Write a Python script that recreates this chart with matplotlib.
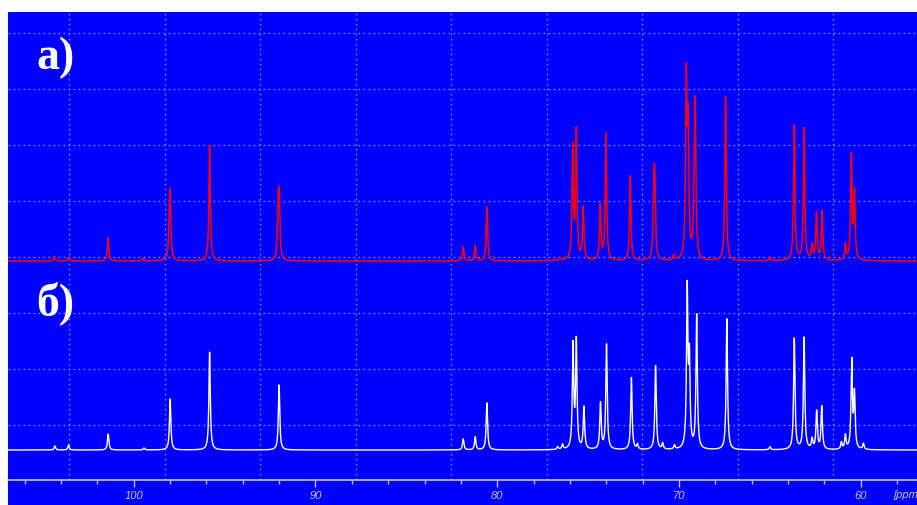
import numpy as np
import matplotlib
matplotlib.use("Agg")
import matplotlib.pyplot as plt
from matplotlib.patches import Rectangle

# ---- data (peak positions in ppm, line intensities in arbitrary units) ----
peaks_a_ppm = [104.37, 103.58, 101.40, 99.47, 98.04, 97.99, 95.82, 92.05, 91.99,
               81.87, 81.21, 80.57, 76.57, 75.85, 75.65, 75.27, 74.33, 74.02,
               72.68, 71.38, 71.33, 70.30, 69.60, 69.50, 69.18, 69.11, 67.44,
               64.99, 63.66, 63.12, 62.68, 62.44, 62.13, 60.85, 60.52, 60.35]
peaks_a_int = [5, 4, 23, 3, 30, 58, 116, 50, 55,
               14, 15, 54, 3, 112, 128, 52, 55, 126,
               85, 65, 62, 5, 175, 125, 40, 150, 164,
               4, 135, 132, 14, 47, 49, 16, 104, 66]

peaks_b_ppm = [104.33, 103.58, 101.40, 99.43, 97.99, 95.82, 92.00,
               81.87, 81.21, 80.57, 76.68, 76.41, 75.83, 75.65, 75.23, 74.32,
               73.99, 72.62, 72.29, 71.29, 70.90, 70.25, 69.55, 69.43, 69.03,
               67.37, 65.00, 63.66, 63.12, 62.68, 62.43, 62.15, 61.07, 60.85,
               60.50, 60.35, 59.86]
peaks_b_int = [4, 5, 16, 2, 51, 98, 65,
               11, 13, 47, 3, 5, 103, 107, 42, 46,
               105, 72, 5, 84, 6, 4, 158, 85, 134,
               131, 3, 111, 112, 10, 38, 43, 7, 14,
               88, 54, 6]

offset_a = 218.5
offset_b = 29.5

tick_major = [100, 90, 80, 70, 60]
tick_labels = ["100", "90", "80", "70", "60"]
tick_minor = list(range(58, 107, 2))
x_range = (106.91, 56.91)

BLUE = "#0000ff"
AXC = "#c4c4f4"
GRIDC = "#8080ff"

W, H = 917, 505
plt.rcParams["lines.scale_dashes"] = False
fig = plt.figure(figsize=(W / 100, H / 100), dpi=100, facecolor="white")
bg = Rectangle((8 / W, 0), (W - 8) / W, (H - 12) / H,
               transform=fig.transFigure, facecolor=BLUE,
               edgecolor="none", zorder=-10)
fig.patches.append(bg)

ax_bottom_px = 479.5
ax = fig.add_axes([8 / W, (H - ax_bottom_px) / H, (W - 8) / W, (ax_bottom_px - 12) / H])
ax.set_zorder(1)
ax.set_facecolor(BLUE)

# grid (decorative, fixed pixel spacing like the original instrument plot)
for k in range(9):
    xp = 69 + 95.5 * k
    xf = (xp - 8) / (W - 8)
    ax.plot([xf, xf], [0, 1], transform=ax.transAxes, color=GRIDC,
            lw=1.0, dashes=(1.2, 2.4), zorder=1)
for k in range(8):
    yp = 33 + 56 * k
    yf = (ax_bottom_px - yp) / (ax_bottom_px - 12)
    ax.plot([0, 1], [yf, yf], transform=ax.transAxes, color=GRIDC,
            lw=1.0, dashes=(1.2, 2.4), zorder=1)

# spectra built from peak lists (Lorentzian lines)
ppm = np.linspace(x_range[0], x_range[1], 12000)
w = 0.045

def spectrum(pos, amp):
    s = np.zeros_like(ppm)
    for p, a in zip(pos, amp):
        s += a * w * w / ((ppm - p) ** 2 + w * w)
    return s

ax.plot(ppm, spectrum(peaks_a_ppm, peaks_a_int) + offset_a, color="#ff0000", lw=1.1, zorder=3)
ax.plot(ppm, spectrum(peaks_b_ppm, peaks_b_int) + offset_b, color="white", lw=1.0, zorder=3)

# axis styling
for s in ["top", "left", "right"]:
    ax.spines[s].set_visible(False)
ax.spines["bottom"].set_color(AXC)
ax.spines["bottom"].set_linewidth(1.2)
ax.set_yticks([])
ax.set_xticks(tick_major)
ax.set_xticklabels(tick_labels)
ax.set_xticks(tick_minor, minor=True)
ax.set_xlim(*x_range)
ax.set_ylim(0, ax_bottom_px - 12)
ax.tick_params(axis="x", which="major", direction="out", length=5, width=1,
               color=AXC, labelcolor=AXC, labelsize=8, pad=3.5)
ax.tick_params(axis="x", which="minor", direction="out", length=3, width=1, color=AXC)
for lab in ax.get_xticklabels():
    lab.set_fontstyle("italic")
    lab.set_family("Liberation Sans")

fig.text(893 / W, (H - 495) / H, "[ppm]", color=AXC, fontsize=8, fontstyle="italic",
         family="Liberation Sans", ha="left", va="center", zorder=5)

fig.text(36 / W, (H - 69) / H, "а)", color="white", fontsize=33, fontweight="bold",
         family="Liberation Serif", ha="left", va="baseline", zorder=5)
fig.text(36 / W, (H - 315) / H, "б)", color="white", fontsize=33, fontweight="bold",
         family="Liberation Serif", ha="left", va="baseline", zorder=5)

fig.savefig("out.png", dpi=100, facecolor="white")
